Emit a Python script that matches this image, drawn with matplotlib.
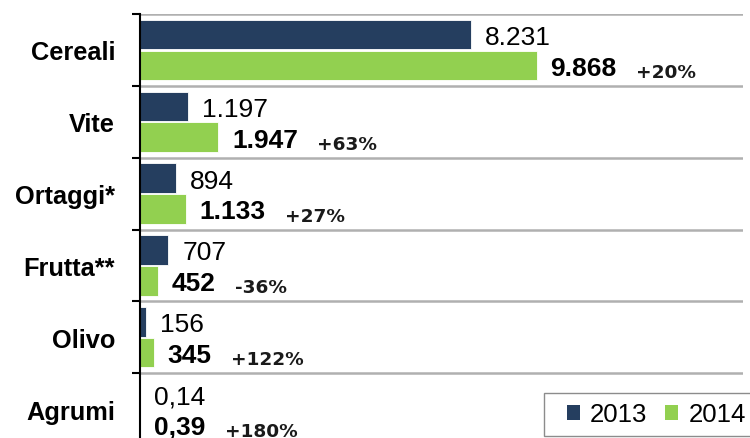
import matplotlib
matplotlib.use("Agg")
import matplotlib.pyplot as plt
from matplotlib.patches import Patch, Rectangle
import numpy as np

categories = ["Cereali", "Vite", "Ortaggi*", "Frutta**", "Olivo", "Agrumi"]
values_2013 = [8231, 1197, 894, 707, 156, 0.14]
values_2014 = [9868, 1947, 1133, 452, 345, 0.39]
pct_labels = ["+20%", "+63%", "+27%", "-36%", "+122%", "+180%"]
series_names = ["2013", "2014"]

C2013 = "#253E5F"
C2014 = "#92D050"
GRID = "#B0B0B0"


def fmt_it(v):
    if v < 1:
        return f"{v:.2f}".replace(".", ",")
    return f"{v:,.0f}".replace(",", ".")


fig = plt.figure(figsize=(7.5, 4.39), dpi=100)
W, H = 750, 439
left, right, top, bottom = 140, 743, 15, 446
ax = fig.add_axes([left / W, 1 - bottom / H, (right - left) / W, (bottom - top) / H])

y = np.arange(len(categories))
bh = 0.41
off = 0.215
ax.barh(y - off, values_2013, height=bh, color=C2013, edgecolor="white", linewidth=0.6, zorder=3)
ax.barh(y + off, values_2014, height=bh, color=C2014, edgecolor="white", linewidth=0.6, zorder=3)

ax.set_xlim(0, 15000)
ax.set_ylim(len(categories) - 0.5, -0.5)

# separators
for b in np.arange(-0.5, len(categories), 1.0):
    ax.axhline(b, color=GRID, lw=1.8, zorder=1)

for s in ["top", "right", "bottom"]:
    ax.spines[s].set_visible(False)
ax.spines["left"].set_linewidth(1.5)
ax.spines["left"].set_color("black")
ax.spines["left"].set_zorder(5)
ax.set_xticks([])

ax.set_yticks(y)
ax.set_yticklabels(categories, fontfamily="Liberation Sans", fontweight="bold", fontsize=18.3)
ax.tick_params(axis="y", which="major", length=0, pad=18)
ax.set_yticks(np.arange(-0.5, len(categories), 1.0), minor=True)
ax.tick_params(axis="y", which="minor", length=5.5, width=1.5, direction="out", color="black")

VFS = 19
base_dy = -VFS * 0.716 / 2  # baseline offset in points
val_texts = []
for i in range(len(categories)):
    ax.annotate(fmt_it(values_2013[i]), xy=(values_2013[i], i - off), xytext=(10, base_dy),
                textcoords="offset points", va="baseline", ha="left",
                fontfamily="Liberation Sans", fontsize=VFS, color="black", zorder=6)
    t = ax.annotate(fmt_it(values_2014[i]), xy=(values_2014[i], i + off), xytext=(10, base_dy),
                    textcoords="offset points", va="baseline", ha="left",
                    fontfamily="Liberation Sans", fontweight="bold", fontsize=VFS,
                    color="black", zorder=6)
    val_texts.append(t)

fig.canvas.draw()
renderer = fig.canvas.get_renderer()
inv = ax.transData.inverted()
for i, t in enumerate(val_texts):
    bb = t.get_window_extent(renderer)
    xd = inv.transform((bb.x1, 0))[0]
    ax.annotate(pct_labels[i], xy=(xd, i + off), xytext=(14, base_dy - 1.5),
                textcoords="offset points", va="baseline", ha="left",
                fontfamily="DejaVu Sans", fontweight="bold", fontsize=13.3,
                color="#1A1A1A", zorder=6, annotation_clip=False)

# legend frame (extends past the right edge, as in the reference)
fig.patches.append(Rectangle((544 / W, 1 - 437 / H), 230 / W, 43 / H, transform=fig.transFigure,
                             facecolor="white", edgecolor="#8C8C8C", linewidth=1.0, zorder=10))

handles = [Patch(facecolor=C2013, edgecolor="none"), Patch(facecolor=C2014, edgecolor="none")]
leg = fig.legend(handles, series_names, loc="center left", bbox_to_anchor=(567 / W, 1 - 415.5 / H),
                 ncol=2, frameon=False,
                 prop={"family": "Liberation Sans", "size": 18.5},
                 handlelength=0.5, handleheight=0.5, handletextpad=0.4,
                 columnspacing=0.7, borderpad=0, borderaxespad=0)
leg.set_zorder(11)

fig.savefig("out.png", dpi=100)
